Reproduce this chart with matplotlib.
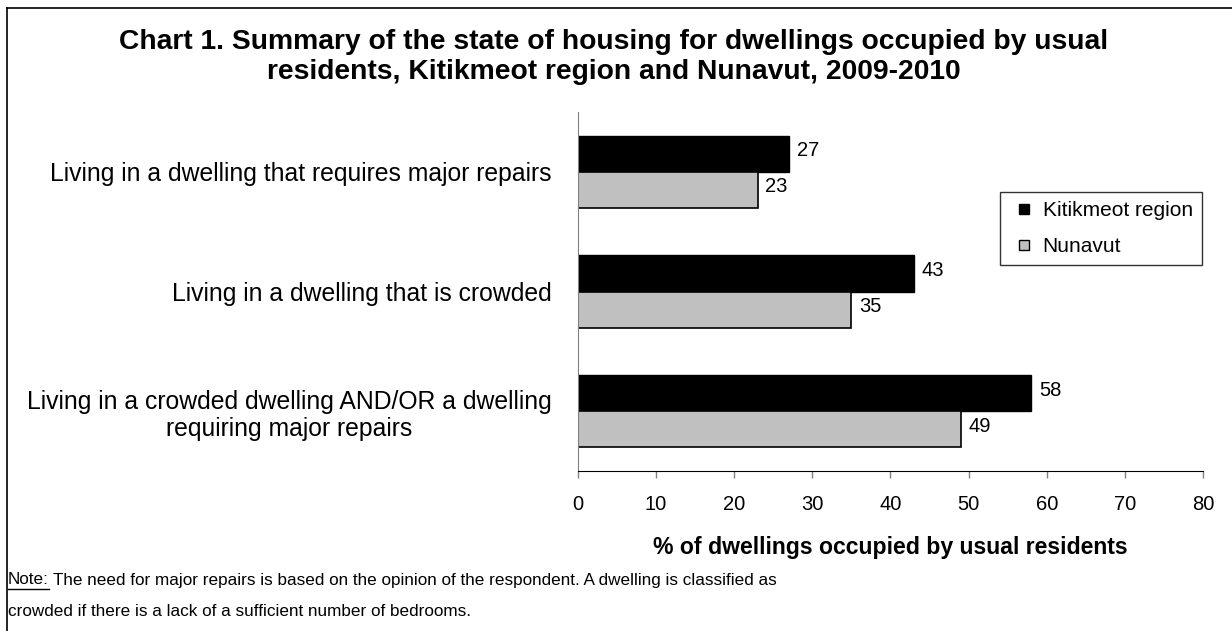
import numpy as np
import matplotlib.pyplot as plt
from matplotlib.lines import Line2D

plt.rcParams['font.family'] = ['Liberation Sans', 'DejaVu Sans']

categories = ['Living in a dwelling that requires major repairs',
              'Living in a dwelling that is crowded',
              'Living in a crowded dwelling AND/OR a dwelling\nrequiring major repairs']
kitikmeot = [27, 43, 58]
nunavut = [23, 35, 49]
series_names = ['Kitikmeot region', 'Nunavut']
xticks = [0, 10, 20, 30, 40, 50, 60, 70, 80]

W, H = 1232, 631
fig = plt.figure(figsize=(W / 100, H / 100), dpi=100)

# axes box in pixels: left 578, right 1203, top 112, bottom 471
ax = fig.add_axes([578 / W, 1 - 471 / H, (1203 - 578) / W, (471 - 112) / H])

pos = np.arange(len(categories))[::-1]  # first category on top
h = 0.302
b1 = ax.barh(pos + h / 2, kitikmeot, height=h, color='black', edgecolor='black', linewidth=1)
b2 = ax.barh(pos - h / 2, nunavut, height=h, color='#c0c0c0', edgecolor='black', linewidth=1.2)

for bars, vals in [(b1, kitikmeot), (b2, nunavut)]:
    for r, v in zip(bars, vals):
        ax.text(v + 1.0, r.get_y() + r.get_height() / 2 + 0.025, str(v),
                va='center', ha='left', fontsize=14.5)

ax.set_xlim(0, 80)
ax.set_ylim(-0.5, 2.5)
ax.set_xticks(xticks)
ax.set_xticklabels([str(t) for t in xticks], fontsize=14.5)
ax.tick_params(axis='x', length=5, width=1, color='#808080', pad=12)
ax.set_yticks(pos)
ax.set_yticklabels(categories, fontsize=17.8)
ax.tick_params(axis='y', length=0, pad=19)
for lab in ax.get_yticklabels():
    lab.set_horizontalalignment('right')
    lab.set_multialignment('center')

ax.spines['top'].set_visible(False)
ax.spines['right'].set_visible(False)
ax.spines['left'].set_color('#808080')
ax.spines['bottom'].set_color('black')

ax.set_xlabel('% of dwellings occupied by usual residents', fontsize=16.6,
              fontweight='bold', labelpad=16)

handles = [Line2D([], [], ls='none', marker='s', markersize=7.5, markerfacecolor='black',
                  markeredgecolor='black', label=series_names[0]),
           Line2D([], [], ls='none', marker='s', markersize=7.5, markerfacecolor='#c0c0c0',
                  markeredgecolor='black', label=series_names[1])]
leg = ax.legend(handles=handles, loc='upper left',
                bbox_to_anchor=((1000 - 578) / (1203 - 578), 1 - (192 - 112) / (471 - 112)),
                fontsize=15, frameon=True, fancybox=False, handlelength=1.45,
                handletextpad=0.15, borderpad=0.45, labelspacing=0.8,
                borderaxespad=0)
leg.get_frame().set_edgecolor('black')
leg.get_frame().set_linewidth(1)

fig.text(614 / W, 1 - 57 / H,
         'Chart 1. Summary of the state of housing for dwellings occupied by usual\n'
         'residents, Kitikmeot region and Nunavut, 2009-2010',
         ha='center', va='center', fontsize=20.3, fontweight='bold', linespacing=1.2)

note_font = ['Liberation Sans Narrow', 'Liberation Sans', 'DejaVu Sans']
t = fig.text(8 / W, 1 - 580 / H, 'Note:', ha='left', va='center', fontsize=12.3,
             family=note_font)
fig.canvas.draw()
bb = t.get_window_extent()
fig.add_artist(Line2D([bb.x0 / W, bb.x1 / W], [(bb.y0 - 1) / H, (bb.y0 - 1) / H],
                      color='black', linewidth=1))
fig.text(bb.x1 / W + 4 / W, 1 - 580 / H,
         'The need for major repairs is based on the opinion of the respondent. '
         'A dwelling is classified as',
         ha='left', va='center', fontsize=12.3, family=note_font)
fig.text(8 / W, 1 - 612 / H,
         'crowded if there is a lack of a sufficient number of bedrooms.',
         ha='left', va='center', fontsize=12.3, family=note_font)

# outer frame (left and top edges visible in the reference)
fig.add_artist(Line2D([7 / W, 7 / W], [0, 1 - 8 / H], color='black', linewidth=1.2))
fig.add_artist(Line2D([7 / W, 1], [1 - 8 / H, 1 - 8 / H], color='black', linewidth=1.2))

fig.savefig('out.png', dpi=100)
